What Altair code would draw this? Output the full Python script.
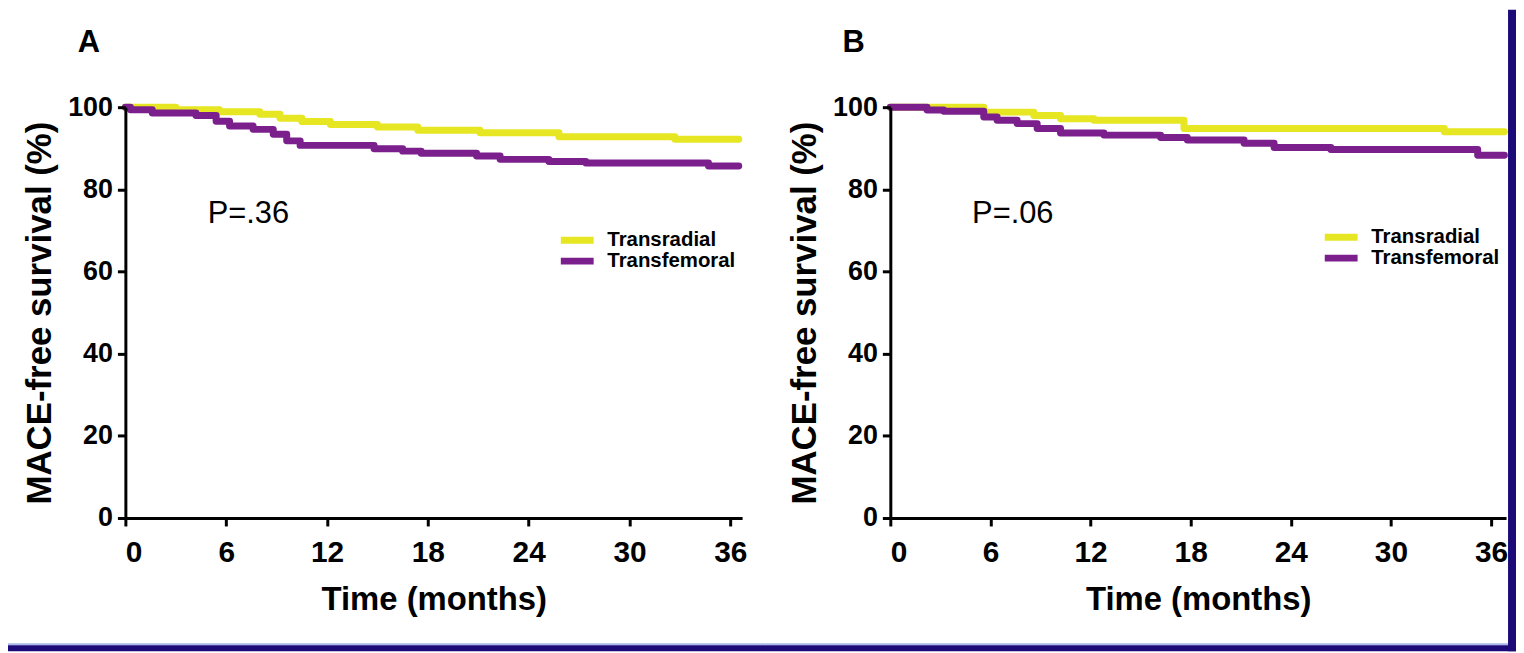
import altair as alt
import pandas as pd

NAVY = "#1b0a78"
YELLOW = "#e6e622"
PURPLE = "#7b1f8c"
EDGE = "#a8b8ea"
GROUPS = ["Transradial", "Transfemoral"]
FONT = "Liberation Sans"
NARROW = "Liberation Sans Narrow, Liberation Sans"

# ---- Panel A (months, % MACE-free survival, step points) ----
a_radial_t = [0, 3.0, 5.6, 8.0, 9.2, 10.5, 12.2, 15.0, 17.4, 21.1, 25.8, 32.7, 36.5]
a_radial_s = [100, 99.4, 98.9, 98.3, 97.3, 96.5, 95.8, 95.2, 94.4, 93.8, 92.8, 92.2, 92.2]
a_femoral_t = [0, 0.3, 1.6, 4.2, 5.4, 6.2, 7.6, 8.8, 9.6, 10.4, 14.8, 16.5, 17.6,
               20.9, 22.3, 25.2, 27.4, 34.7, 36.5]
a_femoral_s = [100, 99.4, 98.6, 98.0, 96.6, 95.4, 94.6, 93.4, 91.8, 90.7, 89.9, 89.3, 88.8,
               88.1, 87.3, 86.8, 86.4, 85.7, 85.7]

# ---- Panel B ----
b_radial_t = [0, 5.6, 8.6, 10.2, 12.2, 17.6, 33.2, 36.8]
b_radial_s = [100, 98.8, 98.0, 97.2, 96.8, 94.8, 94.0, 94.0]
b_femoral_t = [0, 2.2, 3.2, 5.6, 6.4, 7.6, 8.8, 10.2, 12.8, 16.2, 17.8, 21.2, 23.0,
               26.4, 35.2, 36.8]
b_femoral_s = [100, 99.3, 99.0, 97.6, 96.8, 96.0, 94.8, 93.7, 93.2, 92.6, 92.0, 91.2, 90.2,
               89.7, 88.3, 88.3]

x_ticks = [0, 6, 12, 18, 24, 30, 36]
y_ticks = [0, 20, 40, 60, 80, 100]

H = 413


def rect(x1, x2, y1, y2, col):
    return alt.Chart(pd.DataFrame({"a": [0]})).mark_rect(color=col).encode(
        x=alt.value(x1), x2=alt.value(x2), y=alt.value(y1), y2=alt.value(y2)
    )


def legend(x, y):
    return alt.Legend(
        title=None, orient="none", legendX=x, legendY=y,
        symbolType="M-3,0H3", symbolSize=121, symbolStrokeWidth=7,
        labelFontSize=20.5, labelFont=FONT, labelFontWeight="bold",
        labelColor="black", labelOffset=20, padding=0,
    )


def panel(letter, rt, rs, ft, fs, ptxt, xmax, width, rect_x, rect_x2,
          leg_x, leg_y1, leg_y2, right_strip):
    df_r = pd.DataFrame({"month": rt, "surv": rs, "group": [GROUPS[0]] * len(rt)})
    df_f = pd.DataFrame({"month": ft, "surv": fs, "series": [GROUPS[1]] * len(ft)})
    xenc = alt.X("month:Q", scale=alt.Scale(domain=[0, xmax], nice=False, zero=False),
                 axis=alt.Axis(values=x_ticks, title="Time (months)", zindex=1))
    yenc = alt.Y("surv:Q", scale=alt.Scale(domain=[0, 100], nice=False),
                 axis=alt.Axis(values=y_ticks, title="MACE-free survival (%)", zindex=1))

    extra = 8 if right_strip else 0
    layers = [
        rect(rect_x, rect_x2, -98, 539, "white"),
        rect(rect_x, rect_x2 + extra, 539, 541, EDGE),
        rect(rect_x, rect_x2 + extra, 541, 547, NAVY),
    ]
    if right_strip:
        layers.append(rect(rect_x2, rect_x2 + 8, -98, 547, NAVY))
    line_r = alt.Chart(df_r).mark_line(
        interpolate="step-after", strokeWidth=7, strokeJoin="round", strokeCap="round"
    ).encode(
        x=xenc, y=yenc,
        color=alt.Color("group:N", scale=alt.Scale(domain=[GROUPS[0]], range=[YELLOW]),
                        legend=legend(leg_x, leg_y1)),
    )
    line_f = alt.Chart(df_f).mark_line(
        interpolate="step-after", strokeWidth=7, strokeJoin="round", strokeCap="round"
    ).encode(
        x=xenc, y=yenc,
        stroke=alt.Stroke("series:N", scale=alt.Scale(domain=[GROUPS[1]], range=[PURPLE]),
                          legend=legend(leg_x, leg_y2)),
    )
    ptext = alt.Chart(pd.DataFrame({"month": [4.9], "surv": [74.0], "label": [ptxt]})).mark_text(
        align="left", baseline="middle", fontSize=31, font=FONT, color="black"
    ).encode(x="month:Q", y="surv:Q", text="label:N")
    letter_txt = alt.Chart(pd.DataFrame({"label": [letter]})).mark_text(
        align="left", baseline="middle", fontSize=31, font=FONT, fontWeight="bold", color="black"
    ).encode(x=alt.value(-48), y=alt.value(-64), text="label:N")
    layers += [line_r, line_f, ptext, letter_txt]
    return alt.layer(*layers).properties(width=width, height=H)


pa = panel("A", a_radial_t, a_radial_s, a_femoral_t, a_femoral_s, "P=.36",
           36.7, 620, -118, 644, 444, 123.5, 144.5, False)
pb = panel("B", b_radial_t, b_radial_s, b_femoral_t, b_femoral_s, "P=.06",
           36.9, 619, -125, 621, 443, 120.5, 141.5, True)

chart = alt.hconcat(pa, pb, spacing=149, bounds="flush").resolve_scale(
    color="independent", stroke="independent"
).properties(
    background="white",
    padding={"left": 0, "top": 0, "right": 0, "bottom": 0},
).configure_view(stroke=None).configure_axis(
    grid=False, domainColor="black", domainWidth=3, tickColor="black", tickWidth=3,
    tickSize=8, labelFontWeight="bold", labelColor="black", titleFont=FONT,
    titleFontWeight="bold", titleColor="black",
).configure_axisY(
    labelFont=FONT, labelFontSize=27, labelPadding=5, titleFontSize=35, titlePadding=10.5
).configure_axisX(
    labelFont=NARROW, labelFontSize=30, labelPadding=12, titleFontSize=33, titlePadding=15.5
)

chart.save("out.html", embed_options={"renderer": "svg", "actions": False})
